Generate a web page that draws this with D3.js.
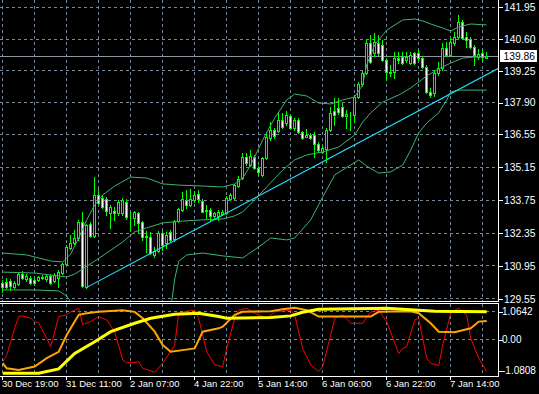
<!DOCTYPE html>
<html><head><meta charset="utf-8">
<script src="https://cdn.jsdelivr.net/npm/d3@7"></script>
<style>html,body{margin:0;padding:0;background:#000;overflow:hidden}</style>
</head><body>
<svg id="c" width="539" height="394" style="display:block;background:#000"></svg>
<script>
// ---------- data ----------
const priceTicks = [141.95,140.60,139.25,137.90,136.55,135.15,133.75,132.35,130.95,129.55];
const dateLabels = ["30 Dec 19:00","31 Dec 11:00","2 Jan 07:00","4 Jan 22:00","5 Jan 14:00","6 Jan 06:00","6 Jan 22:00","7 Jan 14:00"];
const dateBars = [0,16,32,48,64,80,96,112];
const lastPrice = 139.86;

const open = [130.21,130.28,130.32,130.07,130.17,130.61,130.38,130.43,130.35,130.35,130.43,130.38,130.52,130.32,130.43,130.66,131.02,131.73,131.94,132.13,
132.83,130.06,132.74,132.23,133.97,133.83,133.79,133.19,133.29,133.19,133.20,133.68,133.01,132.99,133.19,132.82,132.18,132.17,131.42,131.59,
132.34,131.93,132.38,132.10,132.86,133.33,133.76,133.54,133.76,133.99,133.71,133.31,133.33,133.09,133.09,133.16,133.19,133.80,133.83,134.33,
134.68,135.60,135.24,135.60,135.10,134.82,135.53,136.39,136.73,136.69,137.16,137.03,137.34,136.80,137.16,136.63,136.45,136.54,136.52,136.12,
135.81,135.92,136.73,137.54,137.68,137.72,137.34,137.35,137.37,138.15,138.68,139.14,140.42,139.99,140.42,140.35,139.71,139.21,139.20,139.78,
139.85,139.71,139.59,139.99,140.02,139.78,139.42,138.36,138.29,139.14,139.36,140.21,139.92,140.42,140.70,141.34,140.69,140.59,140.27,139.84,
139.99,139.79];
const high = [130.35,130.44,130.40,130.31,130.65,130.74,130.61,130.52,130.44,130.52,130.57,130.61,130.61,130.65,130.78,131.08,131.84,132.27,132.48,132.91,
133.26,132.74,132.82,134.75,134.22,133.97,133.88,133.54,133.47,133.76,133.84,133.80,133.29,133.29,133.26,132.86,132.44,132.40,131.77,132.44,
132.44,132.41,132.48,132.91,133.42,134.11,134.18,134.22,134.14,134.18,133.80,133.54,133.42,133.26,133.33,133.33,133.93,134.05,134.44,134.78,
135.75,135.75,135.88,135.67,135.20,135.58,136.66,137.07,136.82,137.50,137.46,137.54,137.41,137.24,137.24,136.69,136.78,136.61,136.66,136.24,
136.05,136.82,137.72,138.08,138.08,137.87,137.58,137.51,138.22,138.77,139.24,140.56,140.77,140.84,140.77,140.56,139.79,139.50,140.06,140.06,
140.06,140.05,140.06,140.06,140.13,139.88,139.50,138.52,139.28,139.62,140.42,140.49,140.64,140.91,141.62,141.41,140.91,140.69,140.35,140.16,
140.13,140.06];
const low = [129.86,130.01,129.93,130.01,130.14,130.40,130.31,130.18,130.14,130.31,130.40,130.31,130.18,130.27,130.06,130.61,130.99,131.67,131.89,132.06,
130.06,130.01,132.18,132.18,133.59,133.42,133.12,132.57,132.91,133.12,133.12,132.95,132.44,132.69,132.41,132.06,131.56,131.46,131.35,131.55,
131.63,131.70,131.97,132.01,132.82,133.29,133.40,133.50,133.67,133.67,133.25,132.99,132.86,132.99,132.91,133.12,133.16,133.76,133.80,134.31,
134.65,135.24,135.20,135.07,134.86,134.78,135.50,136.31,136.39,136.65,136.82,136.95,136.78,136.73,136.61,136.35,136.44,136.35,135.60,135.80,
135.75,135.38,136.69,136.95,137.41,137.29,136.80,136.73,137.09,138.09,138.60,139.11,139.58,139.88,139.92,139.67,138.86,139.03,138.94,139.58,
139.54,139.62,139.54,139.54,139.71,139.37,138.29,138.15,138.18,139.07,139.28,139.88,139.88,140.35,140.64,140.60,140.27,140.22,139.50,139.75,
139.71,139.78];
const close = [130.07,130.07,130.10,130.24,130.61,130.45,130.52,130.24,130.21,130.47,130.49,130.52,130.24,130.57,130.71,131.03,131.75,131.94,132.13,132.83,
130.10,132.69,132.23,133.97,133.64,133.47,133.30,133.45,133.19,133.68,133.74,133.05,132.99,133.25,132.76,132.20,132.23,131.49,131.59,132.37,
131.84,132.27,132.06,132.86,133.37,133.80,133.54,133.80,133.97,133.80,133.26,133.29,133.09,133.19,133.26,133.26,133.85,133.97,134.39,134.65,
135.60,135.32,135.63,135.10,134.93,135.53,136.45,136.73,136.48,137.16,136.86,137.37,136.80,137.16,136.65,136.40,136.52,136.41,136.12,135.88,
135.95,136.73,137.44,137.37,137.49,137.34,137.40,137.39,138.15,138.68,139.14,140.44,139.64,140.49,139.99,139.71,139.21,139.16,139.78,139.71,
139.57,139.85,139.92,139.57,139.78,139.42,138.36,138.22,139.14,139.36,140.21,139.92,140.49,140.70,141.34,140.64,140.56,140.27,139.92,139.96,
139.85,139.86];

const upperBars = [0,6,12,15,17,19,21,23,25,28,32,36,40,44,50,55,58,60,62,65,68,71,73,76,79,82,85,88,90,91,93,96,100,103,105,107,110,112,114,117,121];
const upperVals = [131.50,131.42,131.16,131.12,131.46,132.14,132.91,133.54,133.97,134.35,134.73,134.69,134.44,134.39,134.35,134.31,134.44,134.69,135.24,136.31,
137.24,138.01,138.26,138.18,137.88,137.84,138.01,138.14,138.65,139.50,140.35,140.98,141.41,141.45,141.37,141.24,141.07,140.94,141.11,141.24,141.20];
const middleBars = [0,8,14,16,18,20,23,26,30,33,36,40,45,50,55,58,60,63,66,70,73,76,80,84,88,90,92,95,99,102,106,109,112,115,118,121];
const middleVals = [130.69,130.65,130.52,130.48,130.61,130.82,131.16,131.50,131.97,132.40,132.57,132.78,132.86,132.91,132.95,133.08,133.25,133.76,134.31,135.03,
135.46,135.67,135.80,136.01,136.52,137.07,137.46,137.92,138.22,138.52,139.03,139.33,139.58,139.79,139.84,139.84];
const lowerBars = [0,8,14,16,17,19,22,26,30,34,39,42,43,44,46,50,55,60,64,67,71,73,77,80,83,89,91,94,97,100,102,104,106,109,111,112,114,121];
const lowerVals = [129.93,129.93,129.89,129.67,129.42,128.99,128.65,128.57,128.74,128.99,129.16,129.10,130.40,131.15,131.42,131.50,131.38,131.29,131.76,132.14,
132.06,132.14,132.91,133.88,134.82,135.46,135.20,134.90,134.95,135.24,135.88,136.61,137.03,137.46,138.01,138.35,138.43,138.43];

const trendBars = [21,121];
const trendPrices = [130.04,139.09];

const oscTicks = [1.0642, 0.00, -1.0808];
const redBars = [0,1,2,3,4,5,7,8,9,11,12,13,14,16,17,19,20,22,24,26,28,30,31,34,35,38,40,43,44,46,48,49,51,53,55,56,58,59,61,63,66,67,68,72,73,75,77,79,80,82,83,85,87,90,92,94,96,99,100,101,103,104,106,107,109,110,112,114,116,117,119,121];
const redVals = [-0.66,-0.46,-0.06,0.35,0.69,0.71,0.64,0.54,0.50,0.05,-0.21,0.24,0.69,0.74,0.83,0.94,0.45,0.54,0.69,0.59,0.24,-0.60,-0.69,-0.66,-0.85,-0.97,-0.70,-0.16,0.79,0.85,
0.88,0.64,-0.36,-0.75,-0.80,-0.26,0.64,0.88,0.94,0.79,0.64,0.74,0.83,0.88,0.74,-0.26,-0.75,-0.95,-0.80,0.14,0.64,0.74,0.49,0.49,0.83,0.88,0.54,-0.41,-0.26,-0.21,
0.59,0.64,-0.55,-0.70,-0.77,-0.16,0.79,0.94,0.74,0.04,-0.55,-0.95];
const orangeBars = [0,1,4,8,11,14,16,18,19,21,24,30,33,35,38,40,42,45,48,50,54,55,58,60,67,70,73,76,79,92,94,102,104,107,109,113,117,119,121];
const orangeVals = [-0.70,-0.85,-0.90,-0.80,-0.55,-0.36,0.14,0.54,0.74,0.79,0.83,0.88,0.83,0.64,0.24,-0.16,-0.36,-0.31,-0.26,0.24,0.34,0.39,0.74,0.83,0.85,0.91,0.95,0.88,0.69,0.69,0.83,0.85,0.79,0.49,0.24,0.22,0.34,0.54,0.56];
const yellowBars = [0,9,14,18,23,27,33,37,43,49,54,56,67,72,75,79,96,104,108,121];
const yellowVals = [-1.00,-1.00,-0.87,-0.41,-0.06,0.24,0.49,0.64,0.76,0.79,0.69,0.64,0.66,0.71,0.82,0.91,0.94,0.88,0.85,0.83];

// ---------- layout ----------
const plotR = 498, mainT = 0, mainB = 301, subT = 304, subB = 376;
const svg = d3.select("#c");
const x = d3.scaleLinear().domain([0,121]).range([2.7,486.7]);
const y = d3.scaleLinear().domain([129.55,141.95]).range([298.9,7.3]);
const ys = d3.scaleLinear().domain([-1.0808,1.0642]).range([subB,subT]);
const px = v => Math.floor(v) + 0.5;

const defs = svg.append("defs");
defs.append("clipPath").attr("id","cm").append("rect").attr("x",0).attr("y",mainT).attr("width",plotR).attr("height",mainB-mainT);
defs.append("clipPath").attr("id","cs").append("rect").attr("x",0).attr("y",subT).attr("width",plotR).attr("height",subB-subT);

const gridCol = "#778899";
const grid = svg.append("g").attr("stroke",gridCol).attr("stroke-width",1).attr("stroke-dasharray","3,3").attr("shape-rendering","crispEdges");
d3.range(0,122,8).forEach(b=>{
  grid.append("line").attr("x1",px(x(b))).attr("x2",px(x(b))).attr("y1",mainT).attr("y2",mainB);
  grid.append("line").attr("x1",px(x(b))).attr("x2",px(x(b))).attr("y1",subT).attr("y2",subB);
});
priceTicks.forEach(p=>{
  grid.append("line").attr("x1",0).attr("x2",plotR).attr("y1",px(y(p))).attr("y2",px(y(p)));
});
const oscLabelY = [ys(oscTicks[0])+7.5, ys(oscTicks[1]), ys(oscTicks[2])-5.5];
[oscLabelY[0], oscLabelY[1]].forEach(v=>{
  grid.append("line").attr("x1",0).attr("x2",plotR).attr("y1",px(v)).attr("y2",px(v));
});

// main window
const main = svg.append("g").attr("clip-path","url(#cm)");
main.append("line").attr("x1",0).attr("x2",plotR).attr("y1",px(y(lastPrice))).attr("y2",px(y(lastPrice)))
  .attr("stroke","#8a949e").attr("stroke-width",1).attr("shape-rendering","crispEdges");

const cg = main.append("g").attr("shape-rendering","crispEdges");
d3.range(open.length).forEach(i=>{
  const cx = px(x(i));
  cg.append("line").attr("x1",cx).attr("x2",cx).attr("y1",Math.round(y(high[i]))).attr("y2",Math.round(y(low[i]))+1)
    .attr("stroke","#00ff00");
  const top = Math.round(y(Math.max(open[i],close[i])));
  const bot = Math.round(y(Math.min(open[i],close[i])));
  const bull = close[i] >= open[i];
  cg.append("rect").attr("x",cx-1).attr("y",top+0.5).attr("width",2).attr("height",Math.max(bot-top,0))
    .attr("fill", bull ? "#000" : "#fff").attr("stroke","#00ff00").attr("stroke-width",1);
});

const bandCol = "#3cb371";
const lineP = d3.line().x(d=>x(d[0])).y(d=>y(d[1]));
[[upperBars,upperVals],[middleBars,middleVals],[lowerBars,lowerVals]].forEach(([b,v])=>{
  main.append("path").datum(b.map((bb,k)=>[bb,v[k]])).attr("d",lineP)
    .attr("fill","none").attr("stroke",bandCol).attr("stroke-width",1);
});

// trendline (ray to the right edge)
const slope = (y(trendPrices[1])-y(trendPrices[0]))/(x(trendBars[1])-x(trendBars[0]));
const tx0 = x(trendBars[0]), ty0 = y(trendPrices[0]);
main.append("line").attr("x1",tx0).attr("y1",ty0).attr("x2",plotR).attr("y2",ty0+slope*(plotR-tx0))
  .attr("stroke","#1fe0ff").attr("stroke-width",1.1);

// sub window
const sub = svg.append("g").attr("clip-path","url(#cs)");
const lineS = d3.line().x(d=>x(d[0])).y(d=>ys(d[1]));
sub.append("path").datum(redBars.map((b,k)=>[b,redVals[k]])).attr("d",lineS).attr("fill","none").attr("stroke","#ff0000").attr("stroke-width",1);
sub.append("path").datum(orangeBars.map((b,k)=>[b,orangeVals[k]])).attr("d",lineS).attr("fill","none").attr("stroke","#ffa500").attr("stroke-width",2);
sub.append("path").datum(yellowBars.map((b,k)=>[b,yellowVals[k]])).attr("d",lineS).attr("fill","none").attr("stroke","#ffff00").attr("stroke-width",3);

// frame lines
const fr = svg.append("g").attr("stroke","#fff").attr("stroke-width",1).attr("shape-rendering","crispEdges");
fr.append("line").attr("x1",plotR+0.5).attr("x2",plotR+0.5).attr("y1",0).attr("y2",mainB+1);
fr.append("line").attr("x1",plotR+0.5).attr("x2",plotR+0.5).attr("y1",subT-0.5).attr("y2",subB+1);
fr.append("line").attr("x1",0).attr("x2",plotR+1).attr("y1",mainB+0.5).attr("y2",mainB+0.5);
fr.append("line").attr("x1",0).attr("x2",plotR+1).attr("y1",subT-0.5).attr("y2",subT-0.5);
fr.append("line").attr("x1",0).attr("x2",plotR+1).attr("y1",subB+0.5).attr("y2",subB+0.5);

// price axis
const font = "'Liberation Sans', Arial, sans-serif";
const pAxis = d3.axisRight(y).tickValues(priceTicks).tickSize(4).tickSizeOuter(0).tickFormat(d3.format(".2f"));
const pa = svg.append("g").attr("transform",`translate(${plotR+0.5},0)`).call(pAxis);
pa.select(".domain").remove();
pa.selectAll(".tick line").attr("stroke","#fff").attr("shape-rendering","crispEdges");
pa.selectAll(".tick text").attr("fill","#fff").attr("x",5.5).attr("font-family",font).attr("font-size","10.3px");

// current price box
const lpY = y(lastPrice);
svg.append("rect").attr("x",plotR+2).attr("y",Math.round(lpY)-6).attr("width",37).attr("height",12).attr("fill","#fff");
svg.append("text").attr("x",plotR+5.5).attr("y",lpY).attr("dy","0.36em").attr("fill","#000")
  .attr("font-family",font).attr("font-size","10.3px").text(lastPrice.toFixed(2));

// oscillator axis labels
const oscFmt = [d3.format(".4f"), d3.format(".2f"), d3.format(".4f")];
oscTicks.forEach((v,k)=>{
  const yy = Math.round(oscLabelY[k])+0.5;
  svg.append("line").attr("x1",plotR+0.5).attr("x2",plotR+4.5).attr("y1",yy).attr("y2",yy).attr("stroke","#fff").attr("shape-rendering","crispEdges");
  svg.append("text").attr("x",plotR+4).attr("y",oscLabelY[k]).attr("dy","0.36em").attr("fill","#fff")
    .attr("font-family",font).attr("font-size","10px").text(oscFmt[k](v).replace("\u2212","-"));
});

// time axis
const tAxis = d3.axisBottom(x).tickValues(dateBars).tickSize(3).tickSizeOuter(0).tickFormat((d,i)=>dateLabels[i]);
const ta = svg.append("g").attr("transform",`translate(0,${subB+0.5})`).call(tAxis);
ta.select(".domain").remove();
ta.selectAll(".tick").attr("transform",d=>`translate(${px(x(d))},0)`);
ta.selectAll(".tick line").attr("stroke","#fff").attr("shape-rendering","crispEdges");
ta.selectAll(".tick text").attr("fill","#fff").attr("text-anchor","start").attr("x",-0.5).attr("y",4)
  .attr("font-family",font).attr("font-size","9.5px");
</script>
</body></html>
